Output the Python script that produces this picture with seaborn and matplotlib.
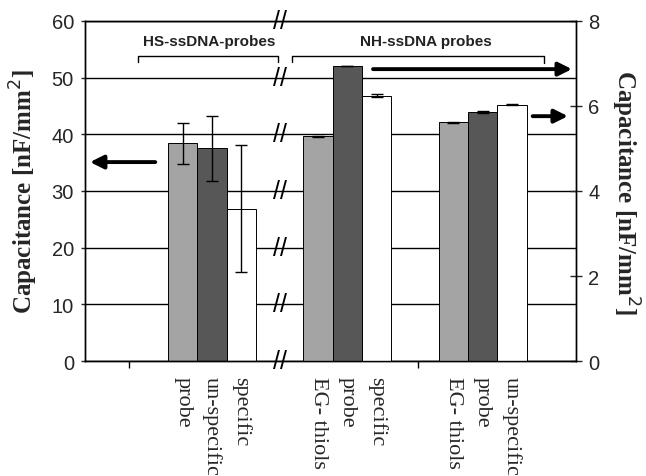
import numpy as np
import pandas as pd
import matplotlib
matplotlib.use("Agg")
import matplotlib.pyplot as plt
import seaborn as sns

# data
groups = ["HS", "NH1", "NH2"]
slots = ["a", "b", "c"]
hs_labels = ["probe", "un-specific", "specific"]
hs_values = [38.4, 37.5, 26.9]          # left axis, nF/mm^2
hs_err = [3.65, 5.8, 11.2]
nh1_labels = ["EG- thiols", "probe", "specific"]
nh1_values = [5.29, 6.94, 6.24]         # right axis, nF/mm^2
nh1_err = [0.015, 0.01, 0.04]
nh2_labels = ["EG- thiols", "probe", "un-specific"]
nh2_values = [5.62, 5.86, 6.03]
nh2_err = [0.012, 0.02, 0.012]

df_hs = pd.DataFrame({"group": "HS", "slot": slots, "label": hs_labels,
                      "value": hs_values, "err": hs_err})
df_nh = pd.concat([
    pd.DataFrame({"group": "NH1", "slot": slots, "label": nh1_labels,
                  "value": nh1_values, "err": nh1_err}),
    pd.DataFrame({"group": "NH2", "slot": slots, "label": nh2_labels,
                  "value": nh2_values, "err": nh2_err}),
], ignore_index=True)

sns.set_style("white")
plt.rcParams["font.family"] = ["Liberation Sans", "DejaVu Sans"]

pal = {"a": "#a4a4a4", "b": "#575757", "c": "#ffffff"}

fig, ax = plt.subplots(figsize=(6.46, 4.77), dpi=100)
fig.subplots_adjust(left=0.1316, right=0.8916, bottom=0.241, top=0.954)
ax2 = ax.twinx()

sns.barplot(data=df_hs, x="group", y="value", hue="slot", order=groups,
            hue_order=slots, palette=pal, width=0.65, errorbar=None,
            edgecolor="black", linewidth=0.7, legend=False, ax=ax)
sns.barplot(data=df_nh, x="group", y="value", hue="slot", order=groups,
            hue_order=slots, palette=pal, width=0.65, errorbar=None,
            edgecolor="black", linewidth=0.7, legend=False, ax=ax2)

xform = ax.get_xaxis_transform()
for a, df in [(ax, df_hs), (ax2, df_nh)]:
    for p in a.patches:
        h = p.get_height()
        if not np.isfinite(h) or h == 0:
            continue
        row = df.iloc[(df["value"] - h).abs().argmin()]
        xc = p.get_x() + p.get_width() / 2
        a.errorbar(xc, h, yerr=row["err"], fmt="none", ecolor="black",
                   elinewidth=1, capsize=4, capthick=1, zorder=5)
        ax.text(xc, -0.045, row["label"], transform=xform, rotation=270,
                ha="center", va="top", fontsize=16,
                family=["Liberation Serif", "DejaVu Serif"])

ax.set_xlim(-0.939, 2.69)
ax.set_ylim(0, 60)
ax2.set_ylim(0, 8)
ax.set_yticks(range(0, 61, 10))
ax2.set_yticks(range(0, 9, 2))
ax.set_xticks([-0.614, 1.523])
ax.set_xticklabels([])
ax.set_xlabel("")
ax2.set_xlabel("")
ax.yaxis.grid(True, color="black", lw=1)
ax.set_axisbelow(True)
ax.tick_params(axis="x", direction="out", length=5, width=1, color="black", bottom=True)
ax.tick_params(axis="y", direction="out", length=3, width=1, labelsize=14.5, pad=5, left=True)
ax2.tick_params(axis="y", direction="inout", length=8, width=1, labelsize=14.5, pad=5, right=True)
for a in (ax, ax2):
    for s in a.spines.values():
        s.set_visible(True)
        s.set_color("black")
        s.set_linewidth(1)

ylab_font = dict(fontsize=18, fontweight="bold", family=["Liberation Serif", "DejaVu Serif"])
ax.set_ylabel("Capacitance [nF/mm$^2$]", labelpad=8, **ylab_font)
ax2.set_ylabel("Capacitance [nF/mm$^2$]", rotation=270, labelpad=30, **ylab_font)

# axis break marks
for yv in range(0, 61, 10):
    ax.text(0.5, yv, "//", ha="center", va="center", fontsize=18,
            color="black", clip_on=False, zorder=6)

# group brackets and titles
ax.plot([-0.547, -0.547, 0.488, 0.488], [52.7, 53.8, 53.8, 52.7], color="black", lw=1, clip_on=False)
ax.plot([0.59, 0.59, 2.455, 2.455], [52.7, 53.8, 53.8, 52.5], color="black", lw=1, clip_on=False)
ax.text(-0.02, 56.5, "HS-ssDNA-probes", ha="center", va="center", fontsize=11,
        fontweight="bold", color="#222222")
ax.text(1.58, 56.5, "NH-ssDNA probes", ha="center", va="center", fontsize=11,
        fontweight="bold", color="#222222")

# arrows pointing to the axis used
arrow = dict(arrowstyle="-|>", lw=2.8, color="black", mutation_scale=20, shrinkA=0, shrinkB=0)
ax.annotate("", xy=(-0.902, 35.1), xytext=(-0.42, 35.1), arrowprops=arrow, zorder=7)
ax.annotate("", xy=(2.66, 51.5), xytext=(1.19, 51.5), arrowprops=arrow, zorder=7,
            annotation_clip=False)
ax.annotate("", xy=(2.63, 43.2), xytext=(2.37, 43.2), arrowprops=arrow, zorder=7)

fig.savefig("out.png", dpi=100)
